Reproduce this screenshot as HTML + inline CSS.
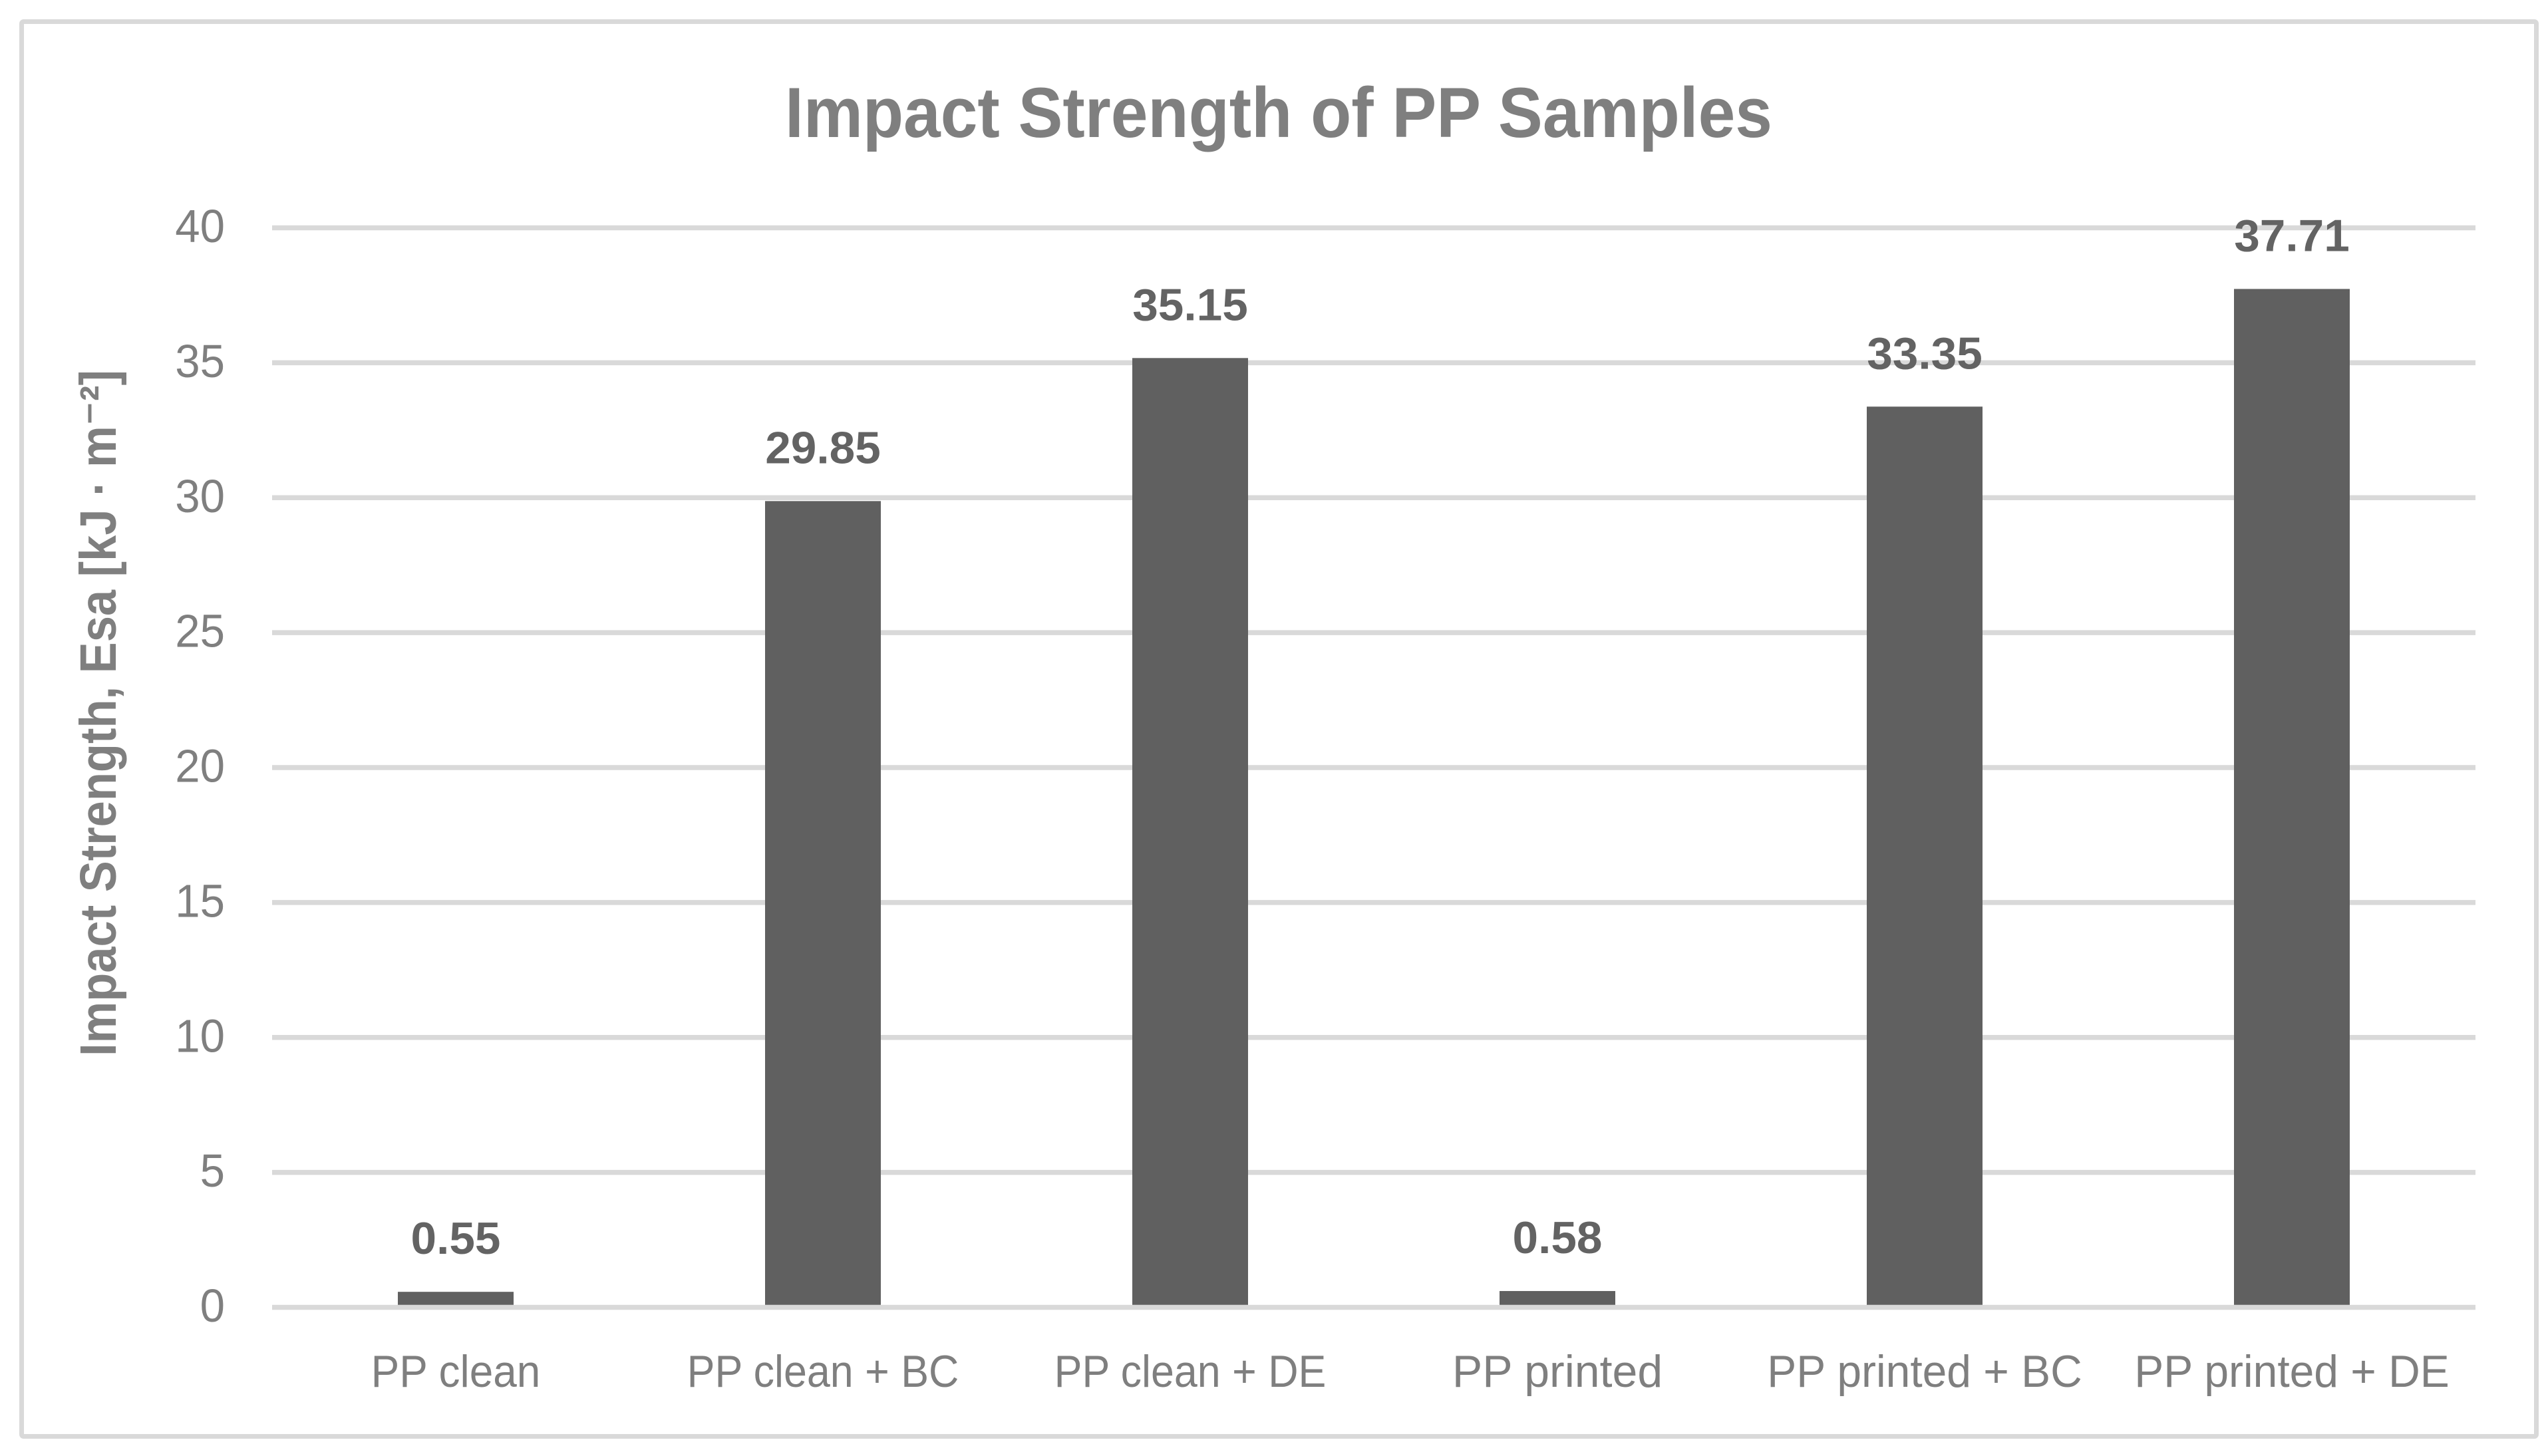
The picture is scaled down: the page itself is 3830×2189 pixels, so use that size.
<!DOCTYPE html>
<html lang="en">
<head>
<meta charset="utf-8">
<title>Impact Strength of PP Samples</title>
<style>
html,body{margin:0;padding:0;background:#fff;}
svg{display:block;}
text{font-family:"Liberation Sans","DejaVu Sans",sans-serif;}
</style>
</head>
<body>
<svg id="chart" xmlns="http://www.w3.org/2000/svg" width="3830" height="2189" viewBox="0 0 3830 2189">
  <rect x="0" y="0" width="3830" height="2189" fill="#ffffff"/>
  <rect x="32.5" y="32.5" width="3780" height="2127" rx="3" fill="#ffffff" stroke="#d9d9d9" stroke-width="7"/>
  <text x="1180" y="206" font-size="107" font-weight="700" fill="#7f7f7f" textLength="1484" lengthAdjust="spacingAndGlyphs">Impact Strength of PP Samples</text>
  <text transform="translate(174,1588) rotate(-90)" x="0" y="0" font-size="77" font-weight="700" fill="#7f7f7f" textLength="1032" lengthAdjust="spacingAndGlyphs">Impact Strength, Esa [kJ · m⁻²]</text>
  <g id="grid"></g>
  <g id="bars"></g>
  <g id="yticks"></g>
  <g id="xticks"></g>
  <g id="values"></g>
</svg>
<script>
const categories = ["PP clean", "PP clean + BC", "PP clean + DE", "PP printed", "PP printed + BC", "PP printed + DE"];
const impactValues = [0.55, 29.85, 35.15, 0.58, 33.35, 37.71];
const valueLabels = ["0.55", "29.85", "35.15", "0.58", "33.35", "37.71"];
const yTicks = [0, 5, 10, 15, 20, 25, 30, 35, 40];

const NS = "http://www.w3.org/2000/svg";
const plot = { left: 409, right: 3721, zeroY: 1965.5, topY: 342.5, maxValue: 40, gridThickness: 7.5, barWidth: 174 };

function yScale(v) {
  return plot.zeroY - (v / plot.maxValue) * (plot.zeroY - plot.topY);
}
function xCenter(i) {
  const band = (plot.right - plot.left) / categories.length;
  return plot.left + band * (i + 0.5);
}
function categoryStretch(name) {
  if (name.includes("printed")) {
    return name.includes("+") ? 0.97 : 1.0;
  }
  return name.includes("+") ? 0.923 : 0.94;
}
function make(tag) {
  return document.createElementNS(NS, tag);
}
function placeText(el, x, y, sx, anchor, size, weight, fill, content) {
  el.setAttribute("transform", "translate(" + x + "," + y + ") scale(" + sx + ",1)");
  el.setAttribute("text-anchor", anchor);
  el.setAttribute("font-size", size);
  el.setAttribute("font-weight", weight);
  el.setAttribute("fill", fill);
  el.textContent = content;
}

const gridG = document.getElementById("grid");
const yTickG = document.getElementById("yticks");
yTicks.forEach(function (t) {
  const y = yScale(t);
  const line = make("rect");
  
  
  line.setAttribute("x", plot.left);
  line.setAttribute("y", y - plot.gridThickness / 2);
  line.setAttribute("width", plot.right - plot.left);
  line.setAttribute("height", plot.gridThickness);
  line.setAttribute("fill", "#d9d9d9");
  gridG.appendChild(line);

  const label = make("text");
  
  
  placeText(label, 338, y + 21.5, 0.96, "end", 70, 400, "#7f7f7f", String(t));
  yTickG.appendChild(label);
});

const barG = document.getElementById("bars");
const xTickG = document.getElementById("xticks");
const valueG = document.getElementById("values");
categories.forEach(function (name, i) {
  const cx = xCenter(i);
  const top = yScale(impactValues[i]) - 1;
  const bottom = plot.zeroY - plot.gridThickness / 2;

  const bar = make("rect");
  
  
  bar.setAttribute("x", cx - plot.barWidth / 2);
  bar.setAttribute("y", top);
  bar.setAttribute("width", plot.barWidth);
  bar.setAttribute("height", Math.max(0, bottom - top));
  bar.setAttribute("fill", "#606060");
  barG.appendChild(bar);

  const val = make("text");
  
  
  placeText(val, cx, top - 57, 1.02, "middle", 68, 700, "#636363", valueLabels[i]);
  valueG.appendChild(val);

  const cat = make("text");
  
  
  placeText(cat, cx, 2085, categoryStretch(name), "middle", 68, 400, "#7f7f7f", name);
  xTickG.appendChild(cat);
});
</script>
</body>
</html>
